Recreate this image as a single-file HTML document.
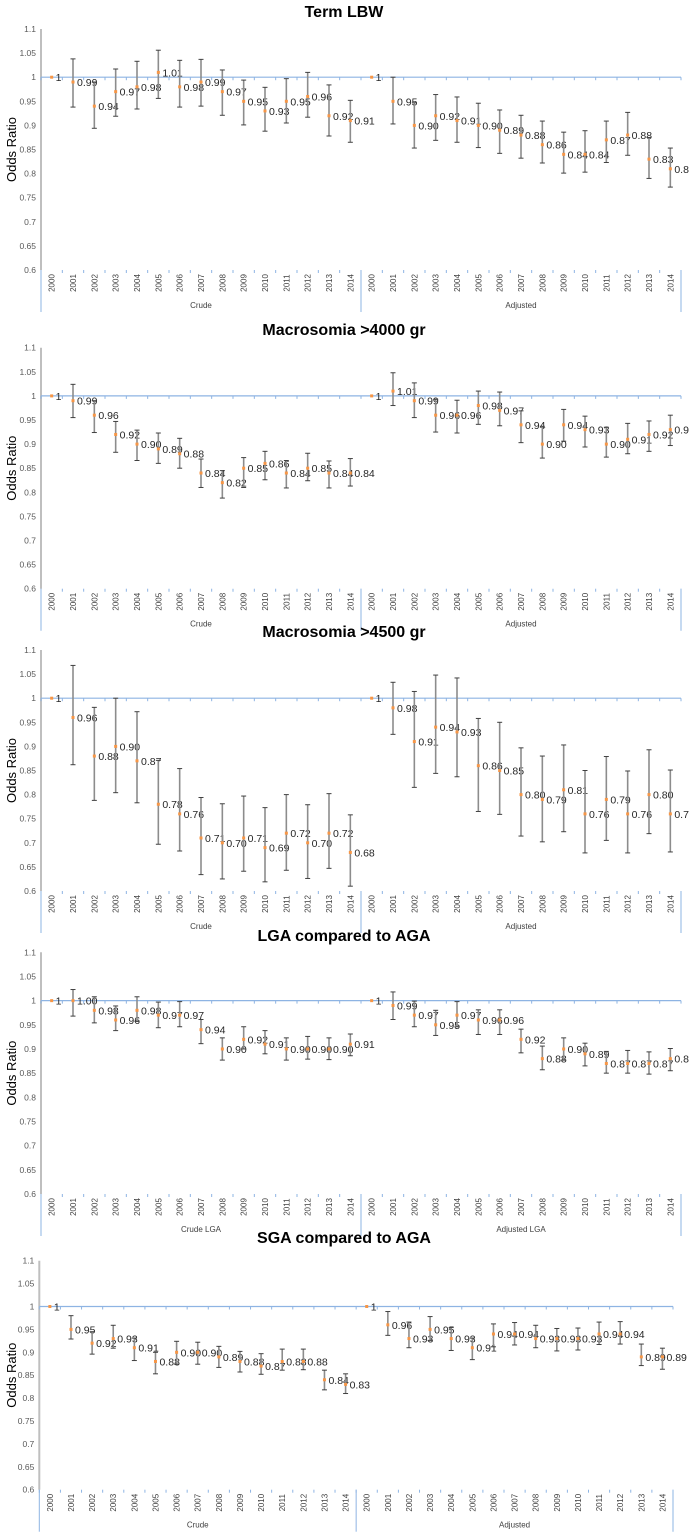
<!DOCTYPE html>
<html><head><meta charset="utf-8">
<style>
html,body{margin:0;padding:0;background:#fff;}
svg{display:block;font-family:"Liberation Sans",sans-serif;}
</style></head>
<body>
<svg id="chart" width="689" height="1533" viewBox="0 0 689 1533" xmlns="http://www.w3.org/2000/svg"></svg>
<script>
const years = ["2000","2001","2002","2003","2004","2005","2006","2007","2008","2009","2010","2011","2012","2013","2014"];
const yTicks = [1.1,1.05,1,0.95,0.9,0.85,0.8,0.75,0.7,0.65,0.6];
const yTickLabels = ["1.1","1.05","1","0.95","0.9","0.85","0.8","0.75","0.7","0.65","0.6"];

const titles = ["Term LBW","Macrosomia >4000 gr","Macrosomia >4500 gr","LGA compared to AGA","SGA compared to AGA"];
const groupNames = [["Crude","Adjusted"],["Crude","Adjusted"],["Crude","Adjusted"],["Crude LGA","Adjusted LGA"],["Crude","Adjusted"]];

// Term LBW
const p1CrudeOR = [1,0.99,0.94,0.97,0.98,1.01,0.98,0.99,0.97,0.95,0.93,0.95,0.96,0.92,0.91];
const p1CrudeHi = [1,1.038,0.99,1.017,1.033,1.056,1.035,1.037,1.015,0.994,0.979,0.997,1.01,0.984,0.952];
const p1CrudeLo = [1,0.938,0.894,0.919,0.934,0.956,0.938,0.94,0.921,0.901,0.888,0.905,0.917,0.878,0.865];
const p1AdjOR = [1,0.95,0.90,0.92,0.91,0.90,0.89,0.88,0.86,0.84,0.84,0.87,0.88,0.83,0.81];
const p1AdjHi = [1,1.0,0.947,0.964,0.959,0.946,0.932,0.921,0.909,0.886,0.889,0.909,0.927,0.875,0.853];
const p1AdjLo = [1,0.903,0.853,0.869,0.865,0.854,0.842,0.832,0.822,0.801,0.803,0.823,0.838,0.79,0.772];
// Macrosomia >4000
const p2CrudeOR = [1,0.99,0.96,0.92,0.90,0.89,0.88,0.84,0.82,0.85,0.86,0.84,0.85,0.84,0.84];
const p2CrudeHi = [1,1.024,0.99,0.947,0.929,0.923,0.912,0.869,0.845,0.872,0.885,0.866,0.881,0.865,0.87];
const p2CrudeLo = [1,0.955,0.924,0.883,0.866,0.86,0.85,0.81,0.788,0.81,0.826,0.809,0.824,0.809,0.813];
const p2AdjOR = [1,1.01,0.99,0.96,0.96,0.98,0.97,0.94,0.90,0.94,0.93,0.90,0.91,0.92,0.93];
const p2AdjHi = [1,1.048,1.027,0.993,0.991,1.01,1.008,0.969,0.937,0.972,0.958,0.935,0.943,0.948,0.96];
const p2AdjLo = [1,0.98,0.955,0.925,0.923,0.941,0.938,0.903,0.871,0.906,0.894,0.873,0.88,0.885,0.897];
// Macrosomia >4500
const p3CrudeOR = [1,0.96,0.88,0.90,0.87,0.78,0.76,0.71,0.70,0.71,0.69,0.72,0.70,0.72,0.68];
const p3CrudeHi = [1,1.068,0.981,1.0,0.972,0.871,0.854,0.794,0.781,0.797,0.773,0.8,0.779,0.802,0.758];
const p3CrudeLo = [1,0.862,0.788,0.804,0.783,0.697,0.683,0.634,0.625,0.641,0.619,0.643,0.626,0.647,0.61];
const p3AdjOR = [1,0.98,0.91,0.94,0.93,0.86,0.85,0.80,0.79,0.81,0.76,0.79,0.76,0.80,0.76];
const p3AdjHi = [1,1.033,1.014,1.048,1.042,0.958,0.95,0.897,0.88,0.903,0.85,0.879,0.849,0.893,0.851];
const p3AdjLo = [1,0.925,0.815,0.844,0.837,0.765,0.759,0.714,0.702,0.723,0.679,0.705,0.679,0.719,0.681];
// LGA
const p4CrudeOR = [1,1.00,0.98,0.96,0.98,0.97,0.97,0.94,0.90,0.92,0.91,0.90,0.90,0.90,0.91];
const p4CrudeHi = [1,1.023,1.008,0.989,1.008,0.997,0.998,0.961,0.923,0.946,0.938,0.923,0.926,0.923,0.931];
const p4CrudeLo = [1,0.968,0.954,0.938,0.957,0.944,0.946,0.911,0.877,0.9,0.89,0.877,0.879,0.878,0.886];
const p4AdjOR = [1,0.99,0.97,0.95,0.97,0.96,0.96,0.92,0.88,0.90,0.89,0.87,0.87,0.87,0.88];
const p4AdjHi = [1,1.018,0.999,0.98,0.998,0.981,0.981,0.941,0.906,0.923,0.912,0.895,0.897,0.894,0.901];
const p4AdjLo = [1,0.961,0.946,0.928,0.946,0.93,0.93,0.892,0.857,0.877,0.865,0.85,0.85,0.848,0.855];
// SGA
const p5CrudeOR = [1,0.95,0.92,0.93,0.91,0.88,0.90,0.90,0.89,0.88,0.87,0.88,0.88,0.84,0.83];
const p5CrudeHi = [1,0.98,0.945,0.959,0.931,0.9,0.924,0.922,0.913,0.902,0.897,0.907,0.907,0.861,0.853];
const p5CrudeLo = [1,0.929,0.896,0.909,0.882,0.853,0.874,0.874,0.867,0.857,0.852,0.861,0.862,0.818,0.81];
const p5AdjOR = [1,0.96,0.93,0.95,0.93,0.91,0.94,0.94,0.93,0.93,0.93,0.94,0.94,0.89,0.89];
const p5AdjHi = [1,0.989,0.966,0.978,0.954,0.931,0.962,0.965,0.959,0.952,0.953,0.966,0.967,0.918,0.909];
const p5AdjLo = [1,0.937,0.91,0.926,0.904,0.884,0.912,0.916,0.91,0.903,0.905,0.917,0.918,0.871,0.863];

const seriesOR = [[p1CrudeOR,p1AdjOR],[p2CrudeOR,p2AdjOR],[p3CrudeOR,p3AdjOR],[p4CrudeOR,p4AdjOR],[p5CrudeOR,p5AdjOR]];
const seriesHi = [[p1CrudeHi,p1AdjHi],[p2CrudeHi,p2AdjHi],[p3CrudeHi,p3AdjHi],[p4CrudeHi,p4AdjHi],[p5CrudeHi,p5AdjHi]];
const seriesLo = [[p1CrudeLo,p1AdjLo],[p2CrudeLo,p2AdjLo],[p3CrudeLo,p3AdjLo],[p4CrudeLo,p4AdjLo],[p5CrudeLo,p5AdjLo]];

const layout = [
  {title:11, top:29, bottom:270, left:41, right:681},
  {title:329, top:347.7, bottom:588.7, left:41, right:681},
  {title:631, top:650, bottom:891, left:41, right:681},
  {title:935, top:952.3, bottom:1194, left:41, right:681},
  {title:1237, top:1260.7, bottom:1489.7, left:39.3, right:673}
];

const NS = "http://www.w3.org/2000/svg";
const svg = document.getElementById("chart");
function mk(tag, attrs, parent){
  const e = document.createElementNS(NS, tag);
  for (const k in attrs) e.setAttribute(k, attrs[k]);
  (parent||svg).appendChild(e);
  return e;
}

layout.forEach((L, p) => {
  const g = mk("g", {});
  
  
  const yScale = v => L.top + (1.1 - v) / 0.5 * (L.bottom - L.top);
  const nSlots = 30;
  const slot = (L.right - L.left) / nSlots;
  const xScale = (grp, i) => L.left + (grp*15 + i + 0.5) * slot;

  const t = mk("text", {x:344, y:L.title+6, "text-anchor":"middle", "font-size":"16", "font-weight":"bold", fill:"#000"}, g);
  t.textContent = titles[p];
  
  

  yTicks.forEach((v, k) => {
    const tl = mk("text", {x:L.left-5, y:yScale(v)+3, "text-anchor":"end", "font-size":"8.5", fill:"#595959"}, g);
    tl.textContent = yTickLabels[k];
    
    
  });
  const yt = mk("text", {x:0, y:0, transform:`translate(16,${(L.top+L.bottom)/2}) rotate(-90)`, "text-anchor":"middle", "font-size":"13", fill:"#000"}, g);
  yt.textContent = "Odds Ratio";
  
  

  const ya = mk("line", {x1:L.left, x2:L.left, y1:L.top, y2:L.bottom, stroke:"#bfbfbf", "stroke-width":"2"}, g);
  
  

  const y1 = yScale(1);
  const rl = mk("line", {x1:L.left, x2:L.right, y1:y1, y2:y1, stroke:"#8eb4e3", "stroke-width":"1.2"}, g);
  
  
  for (let s=0; s<=nSlots; s++){
    const x = L.left + s*slot;
    mk("line", {x1:x, x2:x, y1:y1, y2:y1+3, stroke:"#8eb4e3", "stroke-width":"1"}, g);
    mk("line", {x1:x, x2:x, y1:L.bottom, y2:L.bottom+3, stroke:"#8eb4e3", "stroke-width":"1"}, g);
  }
  [L.left, L.left+15*slot, L.right].forEach(x => {
    const sep = mk("line", {x1:x, x2:x, y1:L.bottom, y2:L.bottom+42, stroke:"#8eb4e3", "stroke-width":"1"}, g);
    
    
  });

  for (let grp=0; grp<2; grp++){
    const gl = mk("text", {x:L.left + (grp*15+7.5)*slot, y:L.bottom+38, "text-anchor":"middle", "font-size":"8", fill:"#404040"}, g);
    gl.textContent = groupNames[p][grp];
    
    
    years.forEach((yr, i) => {
      const x = xScale(grp, i);
      const yl = mk("text", {x:0, y:0, transform:`translate(${x+3},${L.bottom+13}) rotate(-90)`, "text-anchor":"middle", "font-size":"8", fill:"#404040"}, g);
      yl.textContent = yr;
      
      

      const orv = seriesOR[p][grp][i], hi = seriesHi[p][grp][i], lo = seriesLo[p][grp][i];
      if (hi !== lo) {
        const eb = mk("line", {x1:x, x2:x, y1:yScale(hi), y2:yScale(lo), stroke:"#8c8c8c", "stroke-width":"1.6"}, g);
        
        
        mk("line", {x1:x-2.5, x2:x+2.5, y1:yScale(hi), y2:yScale(hi), stroke:"#404040", "stroke-width":"1"}, g);
        mk("line", {x1:x-2.5, x2:x+2.5, y1:yScale(lo), y2:yScale(lo), stroke:"#404040", "stroke-width":"1"}, g);
      }
      const pt = mk("rect", {x:x-1.5, y:yScale(orv)-1.5, width:3, height:3, fill:"#f79646"}, g);
      
      
      const lbl = mk("text", {x:x+4, y:yScale(orv)+4, "font-size":"10.5", fill:"#262626"}, g);
      lbl.textContent = (i===0) ? "1" : orv.toFixed(2);
      
      
    });
  }
});
</script>
</body></html>
